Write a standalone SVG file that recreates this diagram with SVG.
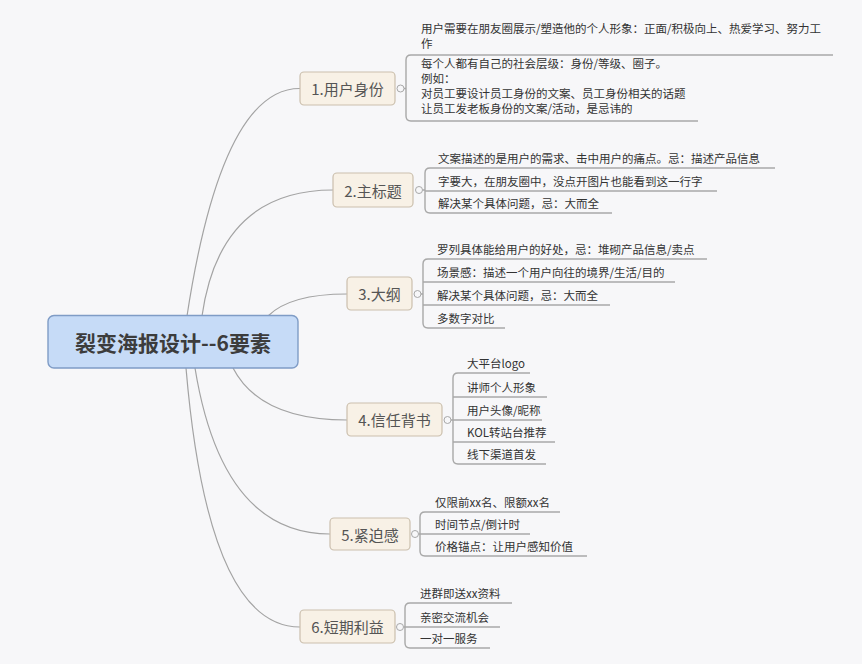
<svg xmlns="http://www.w3.org/2000/svg" width="862" height="664" viewBox="0 0 862 664">
<style>
.bg{fill:#f7f7f9}
.conn{fill:none;stroke:#a3a3a3;stroke-width:1.2}
.ul{fill:none;stroke:#a8a8a8;stroke-width:1.4}
.box{fill:#f8f1e6;stroke:#cbbfad;stroke-width:1.2}
.root{fill:#c6dbf7;stroke:#7f9cc6;stroke-width:1.4}
.dot{fill:#f7f7f9;stroke:#a8a8a8;stroke-width:1}
.lbl{font-family:"Noto Sans CJK SC","Noto Sans",sans-serif;font-size:15px;fill:#555;text-anchor:middle;dominant-baseline:central}
.rt{font-family:"Noto Sans CJK SC","Noto Sans",sans-serif;font-size:21px;font-weight:bold;fill:#3c3c3c;text-anchor:middle;dominant-baseline:central}
.ct{font-family:"Noto Sans CJK SC","Noto Sans",sans-serif;font-size:11.5px;fill:#333}
</style>
<rect class="bg" x="0" y="0" width="862" height="664"/>
<g id="connectors">
<path class="conn" d="M187,316 Q222,88 300,88.5"/>
<path class="conn" d="M202,316 Q220,190 333,190"/>
<path class="conn" d="M268,316 Q290,294 347,294"/>
<path class="conn" d="M233,368 Q260,420 347,420"/>
<path class="conn" d="M195,368 Q222,534 330,534"/>
<path class="conn" d="M186,368 Q208,627 300,627"/>
<path class="ul" d="M404,88.5 H406 M406,88.5 V60 Q406,55 411,55 M406,88.5 V116 Q406,121 411,121"/>
<path class="ul" d="M423,190 H425 M425,190 V173 Q425,168 430,168 M425,190 V208 Q425,213 430,213"/>
<path class="ul" d="M421,294 H423 M423,294 V264 Q423,259 428,259 M423,294 V323 Q423,328 428,328"/>
<path class="ul" d="M451,420 H453 M453,420 V378 Q453,373 458,373 M453,420 V459 Q453,464 458,464"/>
<path class="ul" d="M419,534 H420 M420,534 V517 Q420,512 425,512 M420,534 V551 Q420,556 425,556"/>
<path class="ul" d="M404,627 H405 M405,627 V608 Q405,603 410,603 M405,627 V643 Q405,648 410,648"/>
</g>
<g id="root">
<rect class="root" x="48" y="315.5" width="250" height="52.5" rx="6"/>
<text class="rt" x="173" y="342">裂变海报设计--6要素</text>
</g>
<g id="n1">
<rect class="box" x="300" y="72" width="95" height="33" rx="4"/>
<text class="lbl" x="347.5" y="88.5">1.用户身份</text>
<circle class="dot" cx="400.5" cy="88.5" r="3.5"/>
</g>
<g id="n1-c1">
<text class="ct" x="421" y="33">用户需要在朋友圈展示/塑造他的个人形象：正面/积极向上、热爱学习、努力工</text>
<text class="ct" x="421" y="48">作</text>
<path class="ul" d="M411,55 H833"/>
</g>
<g id="n1-c2">
<text class="ct" x="421" y="68">每个人都有自己的社会层级：身份/等级、圈子。</text>
<text class="ct" x="421" y="83">例如：</text>
<text class="ct" x="421" y="98">对员工要设计员工身份的文案、员工身份相关的话题</text>
<text class="ct" x="421" y="113">让员工发老板身份的文案/活动，是忌讳的</text>
<path class="ul" d="M411,121 H698"/>
</g>
<g id="n2">
<rect class="box" x="333" y="173" width="80" height="34" rx="4"/>
<text class="lbl" x="373" y="190">2.主标题</text>
<circle class="dot" cx="419" cy="190" r="3.5"/>
</g>
<g id="n2-c1"><text class="ct" x="438" y="163">文案描述的是用户的需求、击中用户的痛点。忌：描述产品信息</text><path class="ul" d="M430,168 H775"/></g>
<g id="n2-c2"><text class="ct" x="438" y="186">字要大，在朋友圈中，没点开图片也能看到这一行字</text><path class="ul" d="M425,191 H717"/></g>
<g id="n2-c3"><text class="ct" x="438" y="208">解决某个具体问题，忌：大而全</text><path class="ul" d="M430,213 H612"/></g>
<g id="n3">
<rect class="box" x="347" y="277" width="65" height="33" rx="4"/>
<text class="lbl" x="379.5" y="293.5">3.大纲</text>
<circle class="dot" cx="417.5" cy="294" r="3.5"/>
</g>
<g id="n3-c1"><text class="ct" x="437" y="254">罗列具体能给用户的好处，忌：堆砌产品信息/卖点</text><path class="ul" d="M428,259 H707"/></g>
<g id="n3-c2"><text class="ct" x="437" y="277">场景感：描述一个用户向往的境界/生活/目的</text><path class="ul" d="M423,282 H675"/></g>
<g id="n3-c3"><text class="ct" x="437" y="300">解决某个具体问题，忌：大而全</text><path class="ul" d="M423,305 H610"/></g>
<g id="n3-c4"><text class="ct" x="437" y="323">多数字对比</text><path class="ul" d="M428,328 H505"/></g>
<g id="n4">
<rect class="box" x="347" y="403" width="95" height="33" rx="4"/>
<text class="lbl" x="394.5" y="419.5">4.信任背书</text>
<circle class="dot" cx="447.5" cy="420" r="3.5"/>
</g>
<g id="n4-c1"><text class="ct" x="467" y="368">大平台logo</text><path class="ul" d="M458,373 H530"/></g>
<g id="n4-c2"><text class="ct" x="467" y="392">讲师个人形象</text><path class="ul" d="M453,397 H547"/></g>
<g id="n4-c3"><text class="ct" x="467" y="415">用户头像/昵称</text><path class="ul" d="M453,420 H542"/></g>
<g id="n4-c4"><text class="ct" x="467" y="437">KOL转站台推荐</text><path class="ul" d="M453,442 H555"/></g>
<g id="n4-c5"><text class="ct" x="467" y="459">线下渠道首发</text><path class="ul" d="M458,464 H546"/></g>
<g id="n5">
<rect class="box" x="330" y="518" width="80" height="32" rx="4"/>
<text class="lbl" x="370" y="534">5.紧迫感</text>
<circle class="dot" cx="415" cy="534" r="3.5"/>
</g>
<g id="n5-c1"><text class="ct" x="435" y="507">仅限前xx名、限额xx名</text><path class="ul" d="M425,512 H560"/></g>
<g id="n5-c2"><text class="ct" x="435" y="529">时间节点/倒计时</text><path class="ul" d="M420,534 H530"/></g>
<g id="n5-c3"><text class="ct" x="435" y="551">价格锚点：让用户感知价值</text><path class="ul" d="M425,556 H587"/></g>
<g id="n6">
<rect class="box" x="300" y="610" width="95" height="33" rx="4"/>
<text class="lbl" x="347.5" y="626.5">6.短期利益</text>
<circle class="dot" cx="400" cy="627" r="3.5"/>
</g>
<g id="n6-c1"><text class="ct" x="420" y="598">进群即送xx资料</text><path class="ul" d="M410,603 H512"/></g>
<g id="n6-c2"><text class="ct" x="420" y="622">亲密交流机会</text><path class="ul" d="M405,627 H500"/></g>
<g id="n6-c3"><text class="ct" x="420" y="643">一对一服务</text><path class="ul" d="M410,648 H490"/></g>
</svg>
